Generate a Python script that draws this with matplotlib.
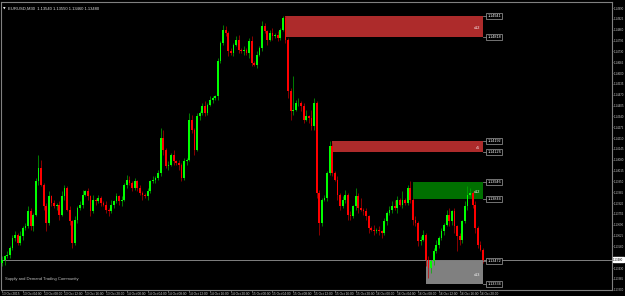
import matplotlib
matplotlib.use("Agg")
import matplotlib.pyplot as plt
import matplotlib.transforms as mtransforms
from datetime import datetime, timedelta

plt.rcParams["font.family"] = ["Liberation Sans", "DejaVu Sans"]

# chart header
symbol = "EURUSD,M30"
start_time = datetime(2015, 10, 13, 0, 0)
bar_minutes = 30

# candle data (open of each bar = close of the bar before)
first_open = 1.1346
closes = [
    1.1348, 1.1350, 1.1351, 1.1355, 1.1361, 1.1363, 1.1358, 1.1362, 1.1367, 1.1368,
    1.1377, 1.1368, 1.1375, 1.1395, 1.1403, 1.1393, 1.1380, 1.1370, 1.1386, 1.1382,
    1.1380, 1.1381, 1.1375, 1.1386, 1.1391, 1.1378, 1.1371, 1.1358, 1.1372, 1.1379,
    1.1381, 1.1387, 1.1389, 1.1386, 1.1377, 1.1384, 1.1383, 1.1385, 1.1382, 1.1381,
    1.1378, 1.1377, 1.1381, 1.1383, 1.1386, 1.1383, 1.1384, 1.1393, 1.1396, 1.1394,
    1.1391, 1.1395, 1.1391, 1.1388, 1.1387, 1.1386, 1.1389, 1.1395, 1.1396, 1.1397,
    1.1400, 1.1421, 1.1414, 1.1404, 1.1405, 1.1411, 1.1407, 1.1406, 1.1405, 1.1397,
    1.1407, 1.1408, 1.1432, 1.1426, 1.1414, 1.1434, 1.1436, 1.1440, 1.1436, 1.1441,
    1.1444, 1.1445, 1.1446, 1.1467, 1.1478, 1.1486, 1.1484, 1.1473, 1.1472, 1.1477,
    1.1480, 1.1474, 1.1473, 1.1474, 1.1472, 1.1479, 1.1466, 1.1465, 1.1471, 1.1475,
    1.1488, 1.1485, 1.1480, 1.1484, 1.1482, 1.1483, 1.1481, 1.1486, 1.1493, 1.1480,
    1.1449, 1.1437, 1.1438, 1.1442, 1.1442, 1.1440, 1.1432, 1.1434, 1.1433, 1.1428,
    1.1442, 1.1388, 1.1370, 1.1384, 1.1385, 1.1400, 1.1416, 1.1400, 1.1396, 1.1387,
    1.1380, 1.1384, 1.1387, 1.1375, 1.1374, 1.1380, 1.1386, 1.1379, 1.1378, 1.1377,
    1.1374, 1.1367, 1.1366, 1.1365, 1.1366, 1.1365, 1.1364, 1.1371, 1.1376, 1.1378,
    1.1380, 1.1379, 1.1384, 1.1381, 1.1384, 1.1382, 1.1391, 1.1384, 1.1372, 1.1370,
    1.1359, 1.1360, 1.1363, 1.1348, 1.1343, 1.1347, 1.1353, 1.1357, 1.1361, 1.1365,
    1.1369, 1.1375, 1.1371, 1.1377, 1.1368, 1.1362, 1.1360, 1.1371, 1.1380, 1.1387,
    1.1388, 1.1381, 1.1367, 1.1357, 1.1354, 1.1348,
]
# wick lengths above / below the body, in pips
upper_pips = [
    2, 1, 2, 1, 2, 2, 1, 3, 1, 2,
    3, 2, 1, 2, 8, 5, 1, 2, 3, 1,
    2, 1, 2, 3, 2, 1, 2, 1, 2, 1,
    2, 3, 1, 2, 1, 3, 1, 2, 1, 1,
    2, 1, 3, 1, 2, 1, 2, 1, 3, 2,
    1, 2, 1, 2, 1, 1, 2, 1, 2, 1,
    2, 6, 5, 1, 2, 1, 3, 1, 2, 1,
    2, 1, 4, 3, 1, 2, 1, 2, 3, 1,
    2, 1, 1, 2, 1, 3, 2, 1, 2, 1,
    2, 3, 1, 2, 1, 2, 3, 1, 2, 1,
    3, 2, 1, 2, 3, 1, 2, 1, 1, 1,
    1, 2, 20, 2, 3, 1, 2, 4, 1, 5,
    3, 1, 2, 1, 2, 1, 3, 2, 1, 2,
    1, 2, 3, 1, 2, 1, 5, 2, 6, 1,
    2, 1, 1, 3, 1, 2, 1, 2, 1, 2,
    3, 4, 2, 1, 5, 1, 2, 4, 1, 2,
    1, 2, 3, 1, 2, 1, 2, 3, 1, 2,
    1, 3, 4, 1, 2, 1, 2, 1, 3, 5,
    3, 1, 2, 1, 2, 1,
]
lower_pips = [
    2, 3, 1, 2, 1, 2, 1, 1, 2, 1,
    1, 2, 3, 1, 2, 1, 2, 5, 1, 2,
    1, 2, 3, 1, 2, 1, 2, 3, 1, 2,
    1, 2, 1, 2, 3, 1, 2, 1, 2, 1,
    2, 3, 1, 2, 1, 2, 3, 1, 2, 1,
    2, 1, 2, 1, 3, 1, 2, 1, 1, 2,
    1, 2, 3, 1, 2, 1, 2, 1, 3, 2,
    1, 2, 1, 2, 3, 1, 2, 1, 2, 1,
    1, 2, 1, 2, 1, 1, 2, 3, 1, 2,
    1, 2, 1, 2, 1, 3, 2, 1, 2, 1,
    2, 1, 3, 1, 2, 1, 2, 1, 1, 2,
    4, 5, 2, 1, 2, 3, 2, 1, 3, 2,
    2, 3, 7, 2, 1, 2, 1, 2, 1, 3,
    2, 1, 2, 3, 2, 1, 2, 3, 1, 2,
    2, 3, 1, 2, 1, 2, 3, 1, 2, 1,
    2, 1, 3, 1, 2, 1, 1, 2, 3, 2,
    3, 2, 1, 4, 6, 3, 2, 1, 2, 1,
    2, 1, 3, 2, 4, 9, 3, 2, 1, 2,
    1, 2, 3, 2, 1, 2,
]
pip = 0.0001

# supply / demand zones
zone_names = ["x12", "x5", "x12", "x13"]
zone_top = [1.14941, 1.14192, 1.13946, 1.13472]
zone_bottom = [1.14818, 1.14126, 1.13844, 1.13334]
zone_start = [109, 127, 158, 163]
zone_colors = ["#ad2b2b", "#ad2b2b", "#007000", "#808080"]

# price scale
y_ticks = [1.14990 - k * 0.00065 for k in range(27)]
footer = "Supply and Demand Trading Community"

opens = [first_open] + closes[:-1]
n = len(closes)
highs = [max(o, c) + u * pip for o, c, u in zip(opens, closes, upper_pips)]
lows = [min(o, c) - d * pip for o, c, d in zip(opens, closes, lower_pips)]
last = n - 1

fig = plt.figure(figsize=(6.25, 2.96), dpi=100, facecolor="black")
ax = fig.add_axes([1 / 625, 6 / 296, 611 / 625, 288 / 296])
ax.set_facecolor("black")
ax.set_xlim(-0.4, 234.6)
ax.set_ylim(1.13298, 1.15026)

# zones (behind the candles)
for name, top, bot, x0, col in zip(zone_names, zone_top, zone_bottom, zone_start, zone_colors):
    ax.add_patch(plt.Rectangle((x0, bot), last - x0, top - bot, facecolor=col,
                               edgecolor="none", zorder=1))
    ax.text(last - 1, (top + bot) / 2 - (top - bot) * 0.1, name, color="white",
            fontsize=2.8, ha="right", va="center", zorder=4)
    for lvl in (top, bot):
        ax.plot([last, last + 1.6], [lvl, lvl], color="#a0a0a0", lw=0.5, zorder=4)
        ax.text(last + 1.7, lvl, f"{lvl:.5f}", color="white", fontsize=2.7,
                ha="left", va="center", zorder=5,
                bbox=dict(boxstyle="square,pad=0.3", fc="black", ec="#a0a0a0", lw=0.5))

# bid line
ax.axhline(closes[-1], color="#808080", lw=0.7, zorder=2)

# candles
for i in range(n):
    o, c = opens[i], closes[i]
    bull = c >= o
    body = "#00ff00" if bull else "#ff0000"
    wick = "#00b000" if bull else "#c00000"
    ax.vlines(i, lows[i], highs[i], color=wick, lw=0.5, zorder=3)
    h = max(abs(c - o), 0.000025)
    ax.bar(i, h, bottom=min(o, c), width=0.68, color=body, edgecolor="none", zorder=3)

# axes styling
for s in ax.spines.values():
    s.set_color("#808080")
    s.set_linewidth(0.8)
ax.yaxis.tick_right()
ax.set_yticks(y_ticks)
ax.set_yticklabels([f"{v:.5f}" for v in y_ticks])
ax.tick_params(axis="y", colors="#808080", labelcolor="#d0d0d0", labelsize=2.0,
               length=1.0, width=0.5, pad=0.5)

x_ticks = list(range(0, n, 8))
x_labels = []
for i in x_ticks:
    t = start_time + timedelta(minutes=bar_minutes * i)
    x_labels.append(t.strftime("%d %b %Y") if i == 0 else t.strftime("%d %b %H:%M"))
ax.set_xticks(x_ticks)
ax.set_xticklabels(x_labels)
ax.tick_params(axis="x", colors="#808080", labelcolor="#d0d0d0", labelsize=2.3,
               length=1.2, width=0.5, pad=0.4)
for lab in ax.get_xticklabels():
    lab.set_ha("left")

# current price tag on the scale (covers the tick label underneath)
trans = mtransforms.blended_transform_factory(ax.transAxes, ax.transData)
for lab, v in zip(ax.get_yticklabels(), y_ticks):
    if abs(v - closes[-1]) < 0.0002:
        lab.set_visible(False)
ax.text(1.002, closes[-1], f"{closes[-1]:.5f}", transform=trans, color="black",
        fontsize=2.0, ha="left", va="center", zorder=6, clip_on=False,
        bbox=dict(boxstyle="square,pad=0.1", fc="white", ec="white"))

# header and footer text
header = f"{symbol}  {opens[-1]:.5f} {highs[-1]:.5f} {lows[-1]:.5f} {closes[-1]:.5f}"
ax.text(0.012, 0.985, header, transform=ax.transAxes, color="#e0e0e0",
        fontsize=3.0, ha="left", va="top")
ax.text(0.004, 0.985, "\u25bc", transform=ax.transAxes, color="white",
        fontsize=2.4, ha="left", va="top", family="DejaVu Sans")
ax.text(0.006, 0.038, footer, transform=ax.transAxes, color="#c0c0c0",
        fontsize=3.0, ha="left", va="center")

fig.savefig("out.png", dpi=100, facecolor="black")
